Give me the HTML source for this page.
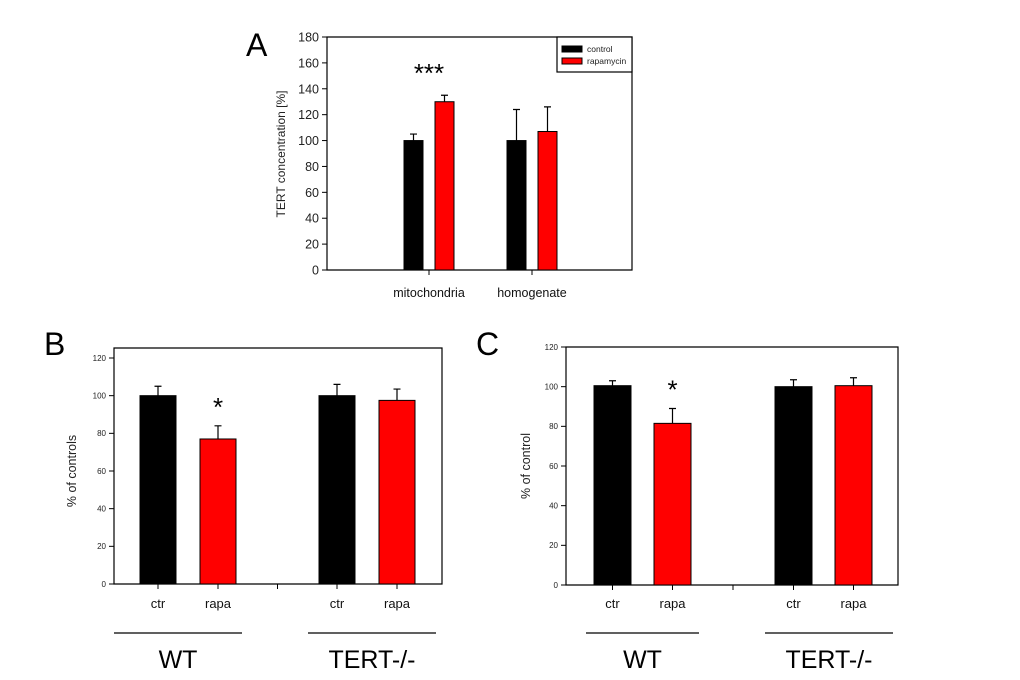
<!DOCTYPE html>
<html><head><meta charset="utf-8"><style>
body{margin:0;background:#fff;}
svg{display:block;font-family:"Liberation Sans",sans-serif;}
</style></head><body>
<svg id="fig" width="1020" height="680" viewBox="0 0 1020 680" xmlns="http://www.w3.org/2000/svg"></svg>
<script>
// Panel A data
const aGroups = ["mitochondria", "homogenate"];
const aControl = [100, 100];
const aControlErr = [5, 24];
const aRapa = [130, 107];
const aRapaErr = [5, 19];
const aTicks = [0, 20, 40, 60, 80, 100, 120, 140, 160, 180];
// Panel B data
const bCats = ["ctr", "rapa", "ctr", "rapa"];
const bValues = [100, 77, 100, 97.5];
const bErr = [5, 7, 6, 6];
const bTicks = [0, 20, 40, 60, 80, 100, 120];
// Panel C data
const cCats = ["ctr", "rapa", "ctr", "rapa"];
const cValues = [100.5, 81.5, 100, 100.5];
const cErr = [2.5, 7.5, 3.5, 4];
const cTicks = [0, 20, 40, 60, 80, 100, 120];
const groupLabels = ["WT", "TERT-/-"];

const svg = document.getElementById('fig');
const NS = "http://www.w3.org/2000/svg";
function mk(tag, attrs, parent, text){
  const e = document.createElementNS(NS, tag);
  for (const k in attrs) e.setAttribute(k, attrs[k]);
  if (text !== undefined) e.textContent = text;
  (parent || svg).appendChild(e);
  return e;
}
function grp(name){
  const g = mk('g', {});
  
  
  return g;
}
function bar(g, name, cx, w, v, err, fill, y){
  const top = y(v);
  const r = mk('rect', {x: cx - w/2, y: top, width: w, height: y(0) - top, fill: fill, stroke: '#000', 'stroke-width': 1}, g);
  
  
  const ey = y(v + err);
  const l = mk('path', {d: `M${cx} ${top}V${ey}M${cx-3.5} ${ey}H${cx+3.5}`, stroke: '#000', 'stroke-width': 1.2, fill: 'none'}, g);
  
  
}
function frame(g, L, R, T, B, ticks, y, fs, tickX){
  const f = mk('path', {d: `M${L} ${T}H${R}V${B}H${L}Z`, fill: 'none', stroke: '#000', 'stroke-width': 1.2}, g);
  
  
  ticks.forEach(t => {
    mk('line', {x1: L - 5, x2: L, y1: y(t), y2: y(t), stroke: '#000', 'stroke-width': 1}, g);
    const tx = mk('text', {x: L - 8, y: y(t) + fs*0.36, 'text-anchor': 'end', 'font-size': fs, fill: '#222'}, g, t);
    
    
  });
  tickX.forEach(x => mk('line', {x1: x, x2: x, y1: B, y2: B + 5, stroke: '#000', 'stroke-width': 1}, g));
}

// ---------- Panel A ----------
(function(){
  const g = grp('panel-a');
  const L = 327, R = 632, T = 37, B = 270;
  const y = v => B - (v / 180) * (B - T);
  const gx = i => 429 + i * 103;
  frame(g, L, R, T, B, aTicks, y, 12.5, aGroups.map((_, i) => gx(i)));
  aGroups.forEach((name, i) => {
    bar(g, 'bar-control-' + name, gx(i) - 15.5, 19, aControl[i], aControlErr[i], '#000', y);
    bar(g, 'bar-rapamycin-' + name, gx(i) + 15.5, 19, aRapa[i], aRapaErr[i], '#ff0000', y);
    const t = mk('text', {x: gx(i), y: 297, 'text-anchor': 'middle', 'font-size': 12.5, fill: '#111'}, g, name);
    
    
  });
  const s = mk('text', {x: gx(0), y: 82, 'text-anchor': 'middle', 'font-size': 26, fill: '#000'}, g, '***');
  
  
  const yt = mk('text', {transform: 'translate(285,154) rotate(-90)', 'text-anchor': 'middle', 'font-size': 12, fill: '#222'}, g, 'TERT concentration [%]');
  
  
  const lg = mk('g', {}, g);
  
  
  mk('rect', {x: 557, y: 37, width: 75, height: 35, fill: '#fff', stroke: '#000', 'stroke-width': 1.2}, lg);
  mk('rect', {x: 562, y: 46, width: 20, height: 6, fill: '#000', stroke: '#000'}, lg);
  mk('rect', {x: 562, y: 58, width: 20, height: 6, fill: '#ff0000', stroke: '#000'}, lg);
  mk('text', {x: 587, y: 52, 'font-size': 8.5, fill: '#222'}, lg, 'control');
  mk('text', {x: 587, y: 64, 'font-size': 8.5, fill: '#222'}, lg, 'rapamycin');
  const p = mk('text', {x: 246, y: 56, 'font-size': 32, fill: '#000'}, g, 'A');
  
  
})();

// ---------- Panels B & C ----------
function panel(name, letter, letterX, L, R, T, B, top120, cats, vals, errs, ticks, x0, gw, step, bw, starIdx, ytitle, ytX, lines){
  const g = grp(name);
  const y = v => B - (v / 120) * (B - top120);
  const cx = i => x0 + Math.floor(i / 2) * gw + (i % 2) * step;
  const tx = cats.map((_, i) => cx(i));
  tx.push(x0 + step/2 + gw/2);
  frame(g, L, R, T, B, ticks, y, 8, tx);
  cats.forEach((c, i) => {
    bar(g, 'bar-' + c + '-' + (i < 2 ? 'wt' : 'tert'), cx(i), bw, vals[i], errs[i], i % 2 ? '#ff0000' : '#000', y);
    const t = mk('text', {x: cx(i), y: 608, 'text-anchor': 'middle', 'font-size': 13, fill: '#111'}, g, c);
    
    
  });
  const s = mk('text', {x: cx(starIdx), y: y(vals[starIdx] + errs[starIdx]) - 10, 'text-anchor': 'middle', 'font-size': 26, fill: '#000'}, g, '*');
  
  
  const yt = mk('text', {transform: `translate(${ytX},${(top120 + B)/2}) rotate(-90)`, 'text-anchor': 'middle', 'font-size': 12.5, fill: '#222'}, g, ytitle);
  
  
  lines.forEach((ln, i) => {
    const l = mk('line', {x1: ln[0], x2: ln[1], y1: 633, y2: 633, stroke: '#000', 'stroke-width': 1.2}, g);
    
    
    const t = mk('text', {x: (ln[0] + ln[1]) / 2, y: 668, 'text-anchor': 'middle', 'font-size': 25, fill: '#000'}, g, groupLabels[i]);
    
    
  });
  const p = mk('text', {x: letterX, y: 355, 'font-size': 32, fill: '#000'}, g, letter);
  
  
}
panel('panel-b', 'B', 44, 114, 442, 348, 584, 358, bCats, bValues, bErr, bTicks, 158, 179, 60, 36, 1, '% of controls', 76, [[114,242],[308,436]]);
panel('panel-c', 'C', 476, 566, 898, 347, 585, 347, cCats, cValues, cErr, cTicks, 612.5, 181, 60, 37, 1, '% of control', 530, [[586,699],[765,893]]);
</script>
</body></html>
